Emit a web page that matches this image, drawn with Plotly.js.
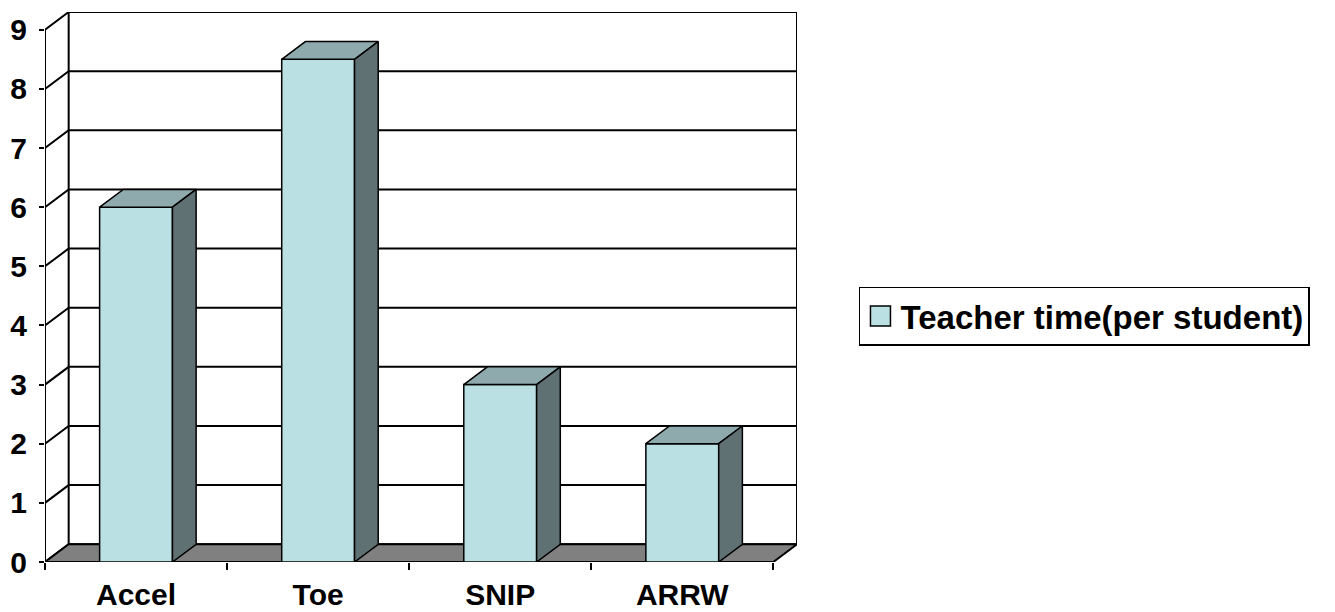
<!DOCTYPE html>
<html><head><meta charset="utf-8">
<script src="https://cdn.plot.ly/plotly-3.0.1.min.js"></script>
<style>html,body{margin:0;padding:0;background:#fff}#chart{width:1335px;height:612px}</style>
</head><body><div id="chart"></div>
<script>
// ---- data ----
const categories = ['Accel', 'Toe', 'SNIP', 'ARRW'];
const values = [6, 8.5, 3, 2];
const seriesName = 'Teacher time(per student)';
const yTicks = [0, 1, 2, 3, 4, 5, 6, 7, 8, 9];

// ---- 3D look parameters (data units) ----
const DX = 0.13, DY = 0.3, BW = 0.4;
const n = categories.length;
const xL = -0.5, xR = n - 0.5, yMax = yTicks[yTicks.length - 1];
const idx = categories.map((c, i) => i);
const bounds = [];
for (let i = 0; i <= n; i++) bounds.push(i - 0.5);
const FONT = 'Liberation Sans, Arial, sans-serif';
const FRONT = '#BBE0E3', TOP = '#8FAAAC', SIDE = '#5F7173', FLOOR = '#808080';

const traces = [];
function poly(xs, ys, fill, ax, lw) {
  traces.push({type: 'scatter', mode: 'lines', x: xs, y: ys, fill: fill ? 'toself' : 'none',
    fillcolor: fill || undefined, line: {color: '#000', width: lw || 2}, hoverinfo: 'skip',
    showlegend: false, cliponaxis: false, xaxis: ax ? 'x2' : 'x', yaxis: ax ? 'y2' : 'y'});
}

// gridlines: diagonal on left wall + horizontal on back wall
const gx = [], gy = [];
yTicks.forEach(k => { gx.push(xL, xL + DX, xR + DX, null); gy.push(k, k + DY, k + DY, null); });
poly(gx, gy);
// back wall vertical edges
poly([xL + DX, xL + DX, null, xR + DX, xR + DX], [DY, yMax + DY, null, DY, yMax + DY]);
// floor
poly([xL, xR, xR + DX, xL + DX, xL], [0, 0, DY, DY, 0], FLOOR);
// front value axis line
poly([xL, xL], [0, yMax]);

// bars: front faces (bar trace), top & side faces (polygons)
traces.push({type: 'bar', x: idx, y: values, width: BW, name: seriesName,
  marker: {color: FRONT, line: {color: '#000', width: 1.5}}, hoverinfo: 'skip',
  xaxis: 'x2', yaxis: 'y2', showlegend: true});
values.forEach((v, i) => {
  const a = i - BW / 2, b = i + BW / 2;
  poly([a, b, b + DX, a + DX, a], [v, v, v + DY, v + DY, v], TOP, true, 1.5);
  poly([b, b + DX, b + DX, b, b], [0, DY, v + DY, v, 0], SIDE, true, 1.5);
});

const xr = [xL, xR + DX], yr = [0, yMax + DY];
const layout = {
  width: 1335, height: 612,
  margin: {l: 45, r: 538, t: 12, b: 50},
  paper_bgcolor: '#fff', plot_bgcolor: 'rgba(0,0,0,0)',
  font: {family: FONT, color: '#000'},
  barmode: 'overlay',
  xaxis: {range: xr, tickmode: 'array', tickvals: idx, ticktext: categories, ticks: '',
    showgrid: false, zeroline: false, showline: false, fixedrange: true,
    tickfont: {family: FONT, size: 30, weight: 'bold', color: '#000'}, ticklabelstandoff: 12},
  yaxis: {range: yr, tickmode: 'array', tickvals: yTicks, ticks: 'outside', ticklen: 5,
    tickwidth: 2, tickcolor: '#000', showgrid: false, zeroline: false, showline: false,
    tickfont: {family: FONT, size: 30, weight: 'bold', color: '#000'}, ticklabelstandoff: 6},
  xaxis2: {range: xr, overlaying: 'x', anchor: 'y2', side: 'bottom', tickmode: 'array',
    tickvals: bounds, ticks: 'outside', ticklen: 7, tickwidth: 2, tickcolor: '#000',
    showticklabels: false, showgrid: false, zeroline: false, showline: false},
  yaxis2: {range: yr, overlaying: 'y', anchor: 'x2', visible: false},
  showlegend: true,
  legend: {x: 1.0824, xanchor: 'left', y: 0.447, yanchor: 'middle', bgcolor: '#fff',
    bordercolor: '#000', borderwidth: 1.5, tracegroupgap: 0,
    font: {family: FONT, size: 33, weight: 'bold', color: '#000'}}
};
Plotly.newPlot('chart', traces, layout, {staticPlot: true}).then(gd => {
  // enlarge the legend swatch to match the reference's square
  gd.querySelectorAll('.legend .legendpoints path').forEach(p => {
    p.setAttribute('d', 'M10,10H-10V-10H10Z');
  });
});
</script></body></html>
